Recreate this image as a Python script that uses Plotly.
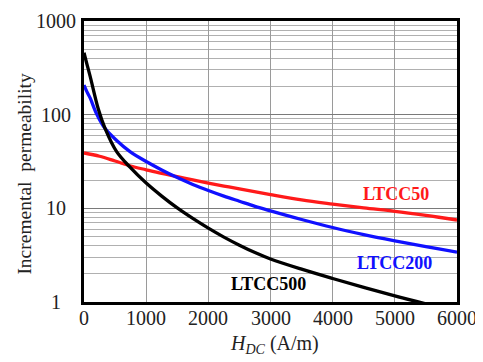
import math
import plotly.graph_objects as go

# 直流偏置磁场 H_DC (A/m) 与增量磁导率
ltcc50_h = [0, 250, 500, 750, 1000, 1250, 1500, 1750, 2000, 2250, 2500, 3000, 3500, 4000, 4500,
            5000, 5500, 6000]
ltcc50 = [39, 36, 32, 28.3, 25.8, 23.6, 21.8, 20.1, 18.6, 17.3, 16.1, 14.0, 12.3, 11.1, 10.1,
          9.3, 8.4, 7.5]

ltcc200_h = [0, 50, 100, 200, 340, 525, 740, 1000, 1250, 1500, 1750, 2000, 2250, 2500, 2750, 3000,
             3500, 4000, 4500, 5000, 5500, 6000]
ltcc200 = [207, 174, 150, 103, 71, 53, 40.3, 31.6, 25.7, 21.3, 18.0, 15.5, 13.5, 11.9, 10.5, 9.4,
           7.6, 6.24, 5.25, 4.5, 3.89, 3.4]

ltcc500_h = [0, 50, 100, 230, 340, 525, 740, 1000, 1250, 1500, 1750, 2000, 2250, 2500, 2750, 3000,
             3500, 4000, 4500, 5000, 5500]
ltcc500 = [458, 340, 255, 115, 71, 40.3, 27.5, 18.6, 13.5, 10.1, 7.8, 6.14, 4.93, 4.04, 3.37, 2.88,
           2.24, 1.78, 1.43, 1.16, 0.955]

y_ticks = [1, 10, 100, 1000]
x_ticks = [0, 1000, 2000, 3000, 4000, 5000, 6000]

FONT = 'Liberation Serif, Times New Roman, serif'
TXT = '#222'

fig = go.Figure()
series = [(ltcc50_h, ltcc50, '#ff1a1a', 'LTCC50'),
          (ltcc200_h, ltcc200, '#1010ff', 'LTCC200'),
          (ltcc500_h, ltcc500, 'black', 'LTCC500')]
for xs, ys, col, nm in series:
    fig.add_trace(go.Scatter(x=xs, y=ys, mode='lines', name=nm,
                             line=dict(color=col, width=3.3, shape='spline', smoothing=1)))

# 曲线标签 (对数轴上注释的 y 用 log10)
labels = [('LTCC50', 5020, 14.1, '#ff1a1a'), ('LTCC200', 5000, 2.64, '#1010ff'), ('LTCC500', 2960, 1.55, 'black')]
for txt, xv, yv, col in labels:
    fig.add_annotation(x=xv, y=math.log10(yv), text='<b>%s</b>' % txt, showarrow=False,
                       font=dict(family=FONT, size=18, color=col))

# 刻度标签 (原图 y 轴标签居中对齐)
for v in y_ticks:
    fig.add_annotation(xref='paper', x=-0.075, y=math.log10(v), text=str(v), showarrow=False,
                       xanchor='center', yanchor='middle', font=dict(family=FONT, size=20, color=TXT))
for v in x_ticks:
    fig.add_annotation(x=v, yref='paper', y=-0.056, text=str(v), showarrow=False,
                       xanchor='center', yanchor='middle', font=dict(family=FONT, size=20, color=TXT))

# 坐标轴标题
fig.add_annotation(xref='paper', yref='paper', x=-0.16, y=0.458, text='Incremental  permeability',
                   textangle=-90, showarrow=False, xanchor='center', yanchor='middle',
                   font=dict(family=FONT, size=19.5, color=TXT))
fig.add_annotation(xref='paper', yref='paper', x=0.51, y=-0.151, text='<i>H</i><sub><i>DC</i></sub> (A/m)',
                   showarrow=False, xanchor='center', yanchor='middle',
                   font=dict(family=FONT, size=20, color=TXT))

minor_vals = [m * d for d in (1, 10, 100) for m in range(2, 10)]

fig.update_xaxes(range=[0, 6000], tickvals=x_ticks, showticklabels=False,
                 showgrid=True, gridcolor='#9a9a9a', gridwidth=1.2,
                 showline=True, mirror=True, linecolor='black', linewidth=2.5,
                 ticks='', zeroline=False)
fig.update_yaxes(type='log', range=[0, 3], tickvals=y_ticks, showticklabels=False,
                 showgrid=True, gridcolor='#7a7a7a', gridwidth=1.2,
                 minor=dict(tickvals=minor_vals, showgrid=True, gridcolor='#b0b0b0', gridwidth=1, ticks=''),
                 showline=True, mirror=True, linecolor='black', linewidth=2.5,
                 ticks='', zeroline=False)

# 页面 body 有 8px 边距，这里整体补偿
fig.update_layout(width=475, height=354, showlegend=False,
                  plot_bgcolor='white', paper_bgcolor='white',
                  margin=dict(l=76, r=26, t=10, b=60))

fig.write_html('out.html')
